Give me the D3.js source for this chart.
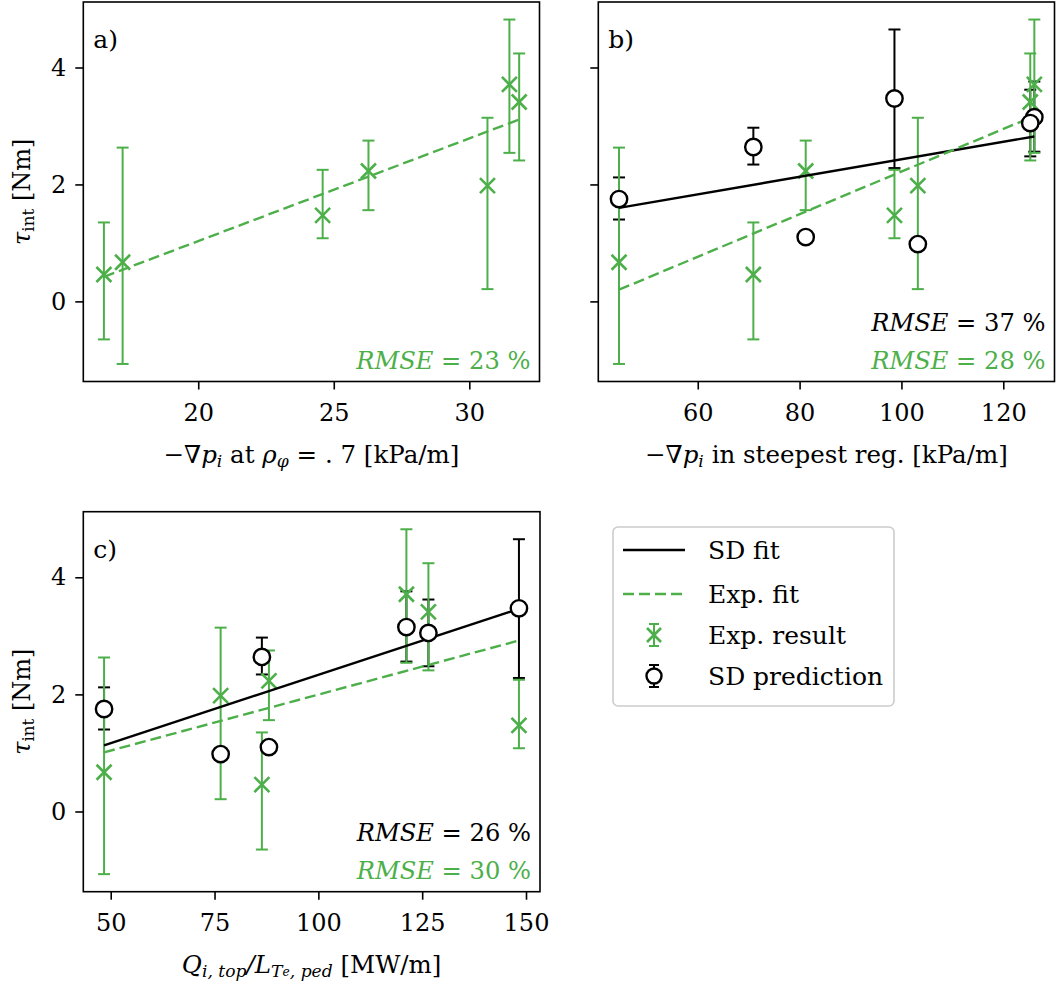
<!DOCTYPE html>
<html><head><meta charset="utf-8">
<script src="https://cdn.jsdelivr.net/npm/d3@7"></script>
<style>
html,body{margin:0;padding:0;background:#fff;}
svg text{font-family:"DejaVu Serif",serif;}
</style></head>
<body><svg id="c" width="1059" height="985"></svg>
<script>
// ---------- data ----------
const xA = [16.52, 17.21, 24.59, 26.28, 30.67, 31.48, 31.84];      // -grad p_i at rho=.7 [kPa/m]
const xB = [70.92, 44.54, 98.63, 81.2, 103.22, 126.1, 125.3];     // -grad p_i steepest [kPa/m]
const xC = [86.4, 48.4, 148.3, 88.1, 76.47, 121.2, 126.5];        // Q_i,top / L_Te,ped [MW/m]
const expTau = [0.46, 0.67, 1.47, 2.23, 1.98, 3.71, 3.41];
const expLo  = [-0.65, -1.07, 1.08, 1.56, 0.21, 2.54, 2.41];
const expHi  = [1.35, 2.63, 2.25, 2.75, 3.14, 4.82, 4.24];
const sdTau  = [2.64, 1.75, 3.47, 1.10, 0.98, 3.15, 3.05];
const sdLo   = [2.34, 1.40, 2.28, 1.06, 0.95, 2.56, 2.48];
const sdHi   = [2.97, 2.12, 4.65, 1.14, 1.01, 3.76, 3.62];
// fit lines (end points)
const fitAexpX = [16.52, 31.84], fitAexpY = [0.42, 3.11];
const fitBsdX  = [44.54, 126.1], fitBsdY  = [1.60, 2.82];
const fitBexpX = [44.54, 126.1], fitBexpY = [0.20, 3.17];
const fitCsdX  = [48.4, 148.3],  fitCsdY  = [1.13, 3.46];
const fitCexpX = [48.4, 148.3],  fitCexpY = [1.01, 2.92];
const rmseA = ["23"], rmseB = ["37", "28"], rmseC = ["26", "30"];
const yTicks = [0, 2, 4];
const xTicksA = [20, 25, 30], xTicksB = [60, 80, 100, 120], xTicksC = [50, 75, 100, 125, 150];
const legendLabels = ["SD fit", "Exp. fit", "Exp. result", "SD prediction"];

// ---------- style ----------
const GREEN = "#4daf4a";
const FS = 25, TFS = 24, XLFS = 24.5, RFS = 24.2;
const svg = d3.select("#c");

function mathText(sel, segs, fs) {
  segs.forEach(s => {
    const t = sel.append("tspan").text(s.t);
    if (s.i) t.attr("font-style", "italic");
    if (s.sub) { t.attr("font-size", fs * (s.sub === 2 ? 0.5 : 0.7)).attr("baseline-shift", "-25%"); }
  });
}

function panel(cfg) {
  const g = svg.append("g");
  const x = d3.scaleLinear().domain(cfg.xd).range([cfg.l, cfg.r]);
  const y = d3.scaleLinear().domain([-1.37, 5.12]).range([cfg.b, cfg.t]);
  // axes
  const ax = g.append("g").attr("transform", `translate(0,${cfg.b})`)
    .call(d3.axisBottom(x).tickValues(cfg.xt).tickSize(8).tickPadding(9).tickFormat(d3.format("d")));
  const ay = g.append("g").attr("transform", `translate(${cfg.l},0)`)
    .call(d3.axisLeft(y).tickValues(yTicks).tickSize(8).tickPadding(9).tickFormat(cfg.ylab ? d3.format("d") : ""));
  [ax, ay].forEach(a => {
    a.select(".domain").remove();
    a.selectAll(".tick line").attr("stroke", "#000").attr("stroke-width", 1.6);
    a.selectAll(".tick text").attr("font-family", "DejaVu Serif").attr("font-size", TFS).attr("fill", "#000");
  });
  ax.selectAll(".tick text").attr("dy", "0.92em");
  // error bars helper
  const cap = 6;
  function errbars(xs, lo, hi, col, lw) {
    const eg = g.append("g").attr("stroke", col).attr("stroke-width", lw).attr("fill", "none");
    xs.forEach((xv, i) => {
      const px = x(xv);
      eg.append("line").attr("x1", px).attr("x2", px).attr("y1", y(lo[i])).attr("y2", y(hi[i]));
      eg.append("line").attr("x1", px - cap).attr("x2", px + cap).attr("y1", y(lo[i])).attr("y2", y(lo[i]));
      eg.append("line").attr("x1", px - cap).attr("x2", px + cap).attr("y1", y(hi[i])).attr("y2", y(hi[i]));
    });
  }
  if (cfg.sd) errbars(cfg.xs, sdLo, sdHi, "#000", 2);
  errbars(cfg.xs, expLo, expHi, GREEN, 2);
  // x markers
  const ms = 7.5;
  const xg = g.append("g").attr("stroke", GREEN).attr("stroke-width", 2.6);
  cfg.xs.forEach((xv, i) => {
    const px = x(xv), py = y(expTau[i]);
    xg.append("line").attr("x1", px - ms).attr("x2", px + ms).attr("y1", py - ms).attr("y2", py + ms);
    xg.append("line").attr("x1", px - ms).attr("x2", px + ms).attr("y1", py + ms).attr("y2", py - ms);
  });
  // fits
  const line = d3.line().x(d => x(d[0])).y(d => y(d[1]));
  if (cfg.fitSd) g.append("path").datum(d3.zip(cfg.fitSd[0], cfg.fitSd[1])).attr("d", line)
      .attr("stroke", "#000").attr("stroke-width", 2.4).attr("fill", "none");
  g.append("path").datum(d3.zip(cfg.fitExp[0], cfg.fitExp[1])).attr("d", line)
      .attr("stroke", GREEN).attr("stroke-width", 2.4).attr("fill", "none").attr("stroke-dasharray", "11,5");
  // circles
  if (cfg.sd) {
    g.append("g").selectAll("circle").data(cfg.xs).join("circle")
      .attr("cx", d => x(d)).attr("cy", (d, i) => y(sdTau[i])).attr("r", 8.2)
      .attr("fill", "#fff").attr("stroke", "#000").attr("stroke-width", 2.4);
  }
  // frame
  g.append("rect").attr("x", cfg.l).attr("y", cfg.t).attr("width", cfg.r - cfg.l).attr("height", cfg.b - cfg.t)
    .attr("fill", "none").attr("stroke", "#000").attr("stroke-width", 1.6);
  // panel letter
  g.append("text").attr("x", cfg.l + 10).attr("y", cfg.t + 46).attr("font-size", FS).text(cfg.letter);
  // rmse
  cfg.rmse.forEach((r, k) => {
    const yy = cfg.b - 13 - (cfg.rmse.length - 1 - k) * 38;
    const t = g.append("text").attr("x", cfg.r - 9).attr("y", yy).attr("text-anchor", "end")
      .attr("font-size", RFS).attr("fill", r.c);
    t.append("tspan").attr("font-style", "italic").text("RMSE");
    t.append("tspan").text(" = " + r.v + " %");
  });
  // x label
  const xl = g.append("text").attr("x", (cfg.l + cfg.r) / 2).attr("y", cfg.b + 81).attr("text-anchor", "middle")
    .attr("font-size", XLFS);
  mathText(xl, cfg.xlabel, XLFS);
  // y label
  if (cfg.ylab) {
    const yl = g.append("text").attr("transform", `translate(${cfg.l - 53},${(cfg.t + cfg.b) / 2}) rotate(-90)`)
      .attr("text-anchor", "middle").attr("font-size", TFS);
    mathText(yl, [{t: "τ", i: true}, {t: "int", sub: 1}, {t: " [Nm]"}], TFS);
  }
}

panel({l: 83.3, r: 539.5, t: 2, b: 381.5, xd: [15.76, 32.59], xt: xTicksA, xs: xA, sd: false, ylab: true,
  fitExp: [fitAexpX, fitAexpY], letter: "a)",
  rmse: [{v: rmseA[0], c: GREEN}],
  xlabel: [{t: "−∇"}, {t: "p", i: true}, {t: "i", i: true, sub: 1}, {t: " at "}, {t: "ρ", i: true}, {t: "φ", i: true, sub: 1}, {t: " = . 7 [kPa/m]"}]});
panel({l: 598.3, r: 1054.5, t: 2, b: 381.5, xd: [40.47, 130.06], xt: xTicksB, xs: xB, sd: true, ylab: false,
  fitExp: [fitBexpX, fitBexpY], fitSd: [fitBsdX, fitBsdY], letter: "b)",
  rmse: [{v: rmseB[0], c: "#000"}, {v: rmseB[1], c: GREEN}],
  xlabel: [{t: "−∇"}, {t: "p", i: true}, {t: "i", i: true, sub: 1}, {t: " in steepest reg. [kPa/m]"}]});
panel({l: 83.3, r: 540, t: 511.7, b: 891.7, xd: [43.4, 153.37], xt: xTicksC, xs: xC, sd: true, ylab: true,
  fitExp: [fitCexpX, fitCexpY], fitSd: [fitCsdX, fitCsdY], letter: "c)",
  rmse: [{v: rmseC[0], c: "#000"}, {v: rmseC[1], c: GREEN}],
  xlabel: [{t: "Q", i: true}, {t: "i, top", i: true, sub: 1}, {t: "/", i: true}, {t: "L", i: true}, {t: "T", i: true, sub: 1}, {t: "e", i: true, sub: 2}, {t: ", ped", i: true, sub: 1}, {t: "  [MW/m]"}]});

// ---------- legend ----------
const lg = svg.append("g");
lg.append("rect").attr("x", 613).attr("y", 527).attr("width", 281).attr("height", 179).attr("rx", 5)
  .attr("fill", "#fff").attr("stroke", "#cccccc").attr("stroke-width", 1.6);
const rowY = [550, 594, 635, 676];
lg.append("line").attr("x1", 623).attr("x2", 685).attr("y1", rowY[0]).attr("y2", rowY[0]).attr("stroke", "#000").attr("stroke-width", 2.4);
lg.append("line").attr("x1", 623).attr("x2", 685).attr("y1", rowY[1]).attr("y2", rowY[1]).attr("stroke", GREEN).attr("stroke-width", 2.4).attr("stroke-dasharray", "11,5");
// exp result marker
{
  const cx = 654, cy = rowY[2];
  const e = lg.append("g").attr("stroke", GREEN).attr("stroke-width", 2);
  e.append("line").attr("x1", cx).attr("x2", cx).attr("y1", cy - 11).attr("y2", cy + 11);
  e.append("line").attr("x1", cx - 5).attr("x2", cx + 5).attr("y1", cy - 11).attr("y2", cy - 11);
  e.append("line").attr("x1", cx - 5).attr("x2", cx + 5).attr("y1", cy + 11).attr("y2", cy + 11);
  e.append("line").attr("x1", cx - 7).attr("x2", cx + 7).attr("y1", cy - 7).attr("y2", cy + 7).attr("stroke-width", 2.6);
  e.append("line").attr("x1", cx - 7).attr("x2", cx + 7).attr("y1", cy + 7).attr("y2", cy - 7).attr("stroke-width", 2.6);
}
{
  const cx = 654, cy = rowY[3];
  const e = lg.append("g").attr("stroke", "#000").attr("stroke-width", 2);
  e.append("line").attr("x1", cx).attr("x2", cx).attr("y1", cy - 11).attr("y2", cy + 11);
  e.append("line").attr("x1", cx - 5).attr("x2", cx + 5).attr("y1", cy - 11).attr("y2", cy - 11);
  e.append("line").attr("x1", cx - 5).attr("x2", cx + 5).attr("y1", cy + 11).attr("y2", cy + 11);
  e.append("circle").attr("cx", cx).attr("cy", cy).attr("r", 7.5).attr("fill", "#fff").attr("stroke-width", 2.4);
}
legendLabels.forEach((s, i) => {
  lg.append("text").attr("x", 708).attr("y", rowY[i] + 9).attr("font-size", FS).text(s);
});
</script></body></html>
